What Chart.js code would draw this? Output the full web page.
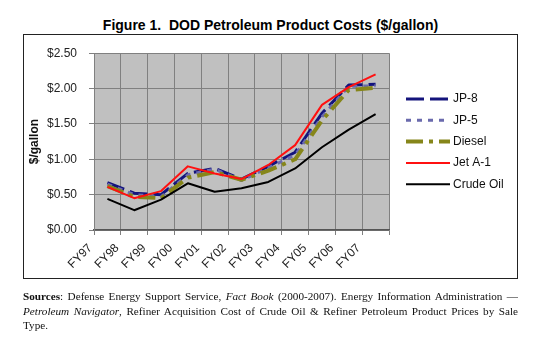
<!DOCTYPE html>
<html>
<head>
<meta charset="utf-8">
<script src="https://cdn.jsdelivr.net/npm/chart.js@4.4.0/dist/chart.umd.min.js"></script>
<style>
  body { margin: 0; background: #fff; width: 550px; height: 340px; position: relative; overflow: hidden; }
  #title { position: absolute; left: 23px; width: 495px; top: 17px; text-align: center;
           font: bold 14px "Liberation Sans", Arial, sans-serif; line-height: 17px; color: #000; }
  #wrap { position: absolute; left: 23px; top: 34px; width: 495px; height: 245px; }
  #frame { position: absolute; left: 23px; top: 34px; width: 495px; height: 245px;
           box-sizing: border-box; border: 1.5px solid #222; pointer-events: none; }
  #sources { position: absolute; left: 23px; top: 289px; width: 495px;
             font: 11.2px "Liberation Serif", "Times New Roman", serif; line-height: 14.7px; color: #111; }
  #sources div { white-space: nowrap; text-align: justify; text-align-last: justify; }
  #sources div.last { text-align-last: left; }
</style>
</head>
<body>
<div id="title">Figure 1.&nbsp; DOD Petroleum Product Costs ($/gallon)</div>
<div id="wrap"><canvas id="chart" width="495" height="245"></canvas></div>
<div id="frame"></div>
<div id="sources">
  <div><b>Sources</b>: Defense Energy Support Service, <i>Fact Book</i> (2000-2007). Energy Information Administration —</div>
  <div><i>Petroleum Navigator</i>, Refiner Acquisition Cost of Crude Oil &amp; Refiner Petroleum Product Prices by Sale</div>
  <div class="last">Type.</div>
</div>
<script>
const years = ['FY97', 'FY98', 'FY99', 'FY00', 'FY01', 'FY02', 'FY03', 'FY04', 'FY05', 'FY06', 'FY07'];

const jp8    = [0.67, 0.52, 0.50, 0.80, 0.87, 0.72, 0.90, 1.10, 1.65, 2.05, 2.06];
const jp5    = [0.65, 0.50, 0.47, 0.78, 0.86, 0.70, 0.88, 1.06, 1.60, 2.03, 2.04];
const diesel = [0.62, 0.47, 0.45, 0.74, 0.82, 0.71, 0.84, 1.00, 1.55, 1.98, 2.01];
const jetA1  = [0.61, 0.45, 0.55, 0.90, 0.80, 0.72, 0.92, 1.20, 1.77, 2.02, 2.20];
const crude  = [0.44, 0.28, 0.43, 0.66, 0.54, 0.59, 0.68, 0.87, 1.17, 1.42, 1.64];

const yTicks = [0, 0.5, 1.0, 1.5, 2.0, 2.5];

Chart.defaults.font.family = '"Liberation Sans", Arial, sans-serif';
Chart.defaults.color = '#222';

// grey plot background behind the grid
const plotFill = {
  id: 'plotFill',
  beforeDraw(chart) {
    const { ctx, chartArea: a } = chart;
    ctx.save();
    ctx.fillStyle = '#c0c0c0';
    ctx.fillRect(a.left, a.top, a.width, a.height);
    ctx.restore();
  }
};

// legend drawn to the right of the plot, centred on it
const sideLegend = {
  id: 'sideLegend',
  afterDraw(chart) {
    const { ctx, chartArea: a } = chart;
    const ds = chart.data.datasets;
    const rowH = 21.3;
    const y0 = (a.top + a.bottom) / 2 - rowH * (ds.length - 1) / 2;
    const x0 = a.right + 17;
    ds.forEach((d, i) => {
      const y = y0 + i * rowH;
      ctx.save();
      ctx.strokeStyle = d.borderColor;
      ctx.lineWidth = d.borderWidth;
      ctx.setLineDash(d.borderDash || []);
      ctx.beginPath();
      ctx.moveTo(x0, y);
      ctx.lineTo(x0 + 44, y);
      ctx.stroke();
      ctx.setLineDash([]);
      ctx.fillStyle = '#111';
      ctx.font = '12px "Liberation Sans", Arial, sans-serif';
      ctx.textBaseline = 'middle';
      ctx.fillText(d.label, x0 + 47, y);
      ctx.restore();
    });
  }
};

const line = (label, data, color, width, dash, order) => ({
  label, data,
  borderColor: color,
  backgroundColor: color,
  borderWidth: width,
  borderDash: dash,
  borderCapStyle: 'butt',
  borderJoinStyle: 'round',
  pointRadius: 0,
  tension: 0,
  fill: false,
  order
});

new Chart(document.getElementById('chart'), {
  type: 'line',
  data: {
    labels: years,
    datasets: [
      line('JP-8', jp8, '#14147c', 3, [18, 6], 5),
      line('JP-5', jp5, '#6a6aad', 3, [5, 6], 4),
      line('Diesel', diesel, '#86861a', 4, [17, 6, 4, 6], 3),
      line('Jet A-1', jetA1, '#ff1010', 2, [], 2),
      line('Crude Oil', crude, '#000000', 2, [], 1)
    ]
  },
  options: {
    responsive: false,
    animation: false,
    layout: { padding: { top: 12, right: 129, left: 0, bottom: 0 } },
    plugins: { legend: { display: false }, tooltip: { enabled: false } },
    scales: {
      x: {
        offset: true,
        grid: { offset: true, color: '#808080', lineWidth: 1, tickLength: 5 },
        border: { color: '#555', width: 1.5 },
        ticks: {
          autoSkip: false, minRotation: 45, maxRotation: 45,
          labelOffset: -17, padding: 6,
          font: { size: 12 }, color: '#222'
        },
        afterFit(s) { s.height = 49; }
      },
      y: {
        min: 0, max: 2.5,
        afterBuildTicks(s) { s.ticks = yTicks.map(v => ({ value: v })); },
        grid: { color: '#808080', lineWidth: 1, tickLength: 5 },
        border: { color: '#808080', width: 1 },
        ticks: {
          padding: 12, font: { size: 12 }, color: '#222',
          callback: v => '$' + Number(v).toFixed(2)
        },
        title: { display: true, text: '$/gallon', font: { size: 12, weight: 'bold' }, color: '#111' },
        afterFit(s) { s.width = 71; }
      }
    }
  },
  plugins: [plotFill, sideLegend]
});
</script>
</body>
</html>
